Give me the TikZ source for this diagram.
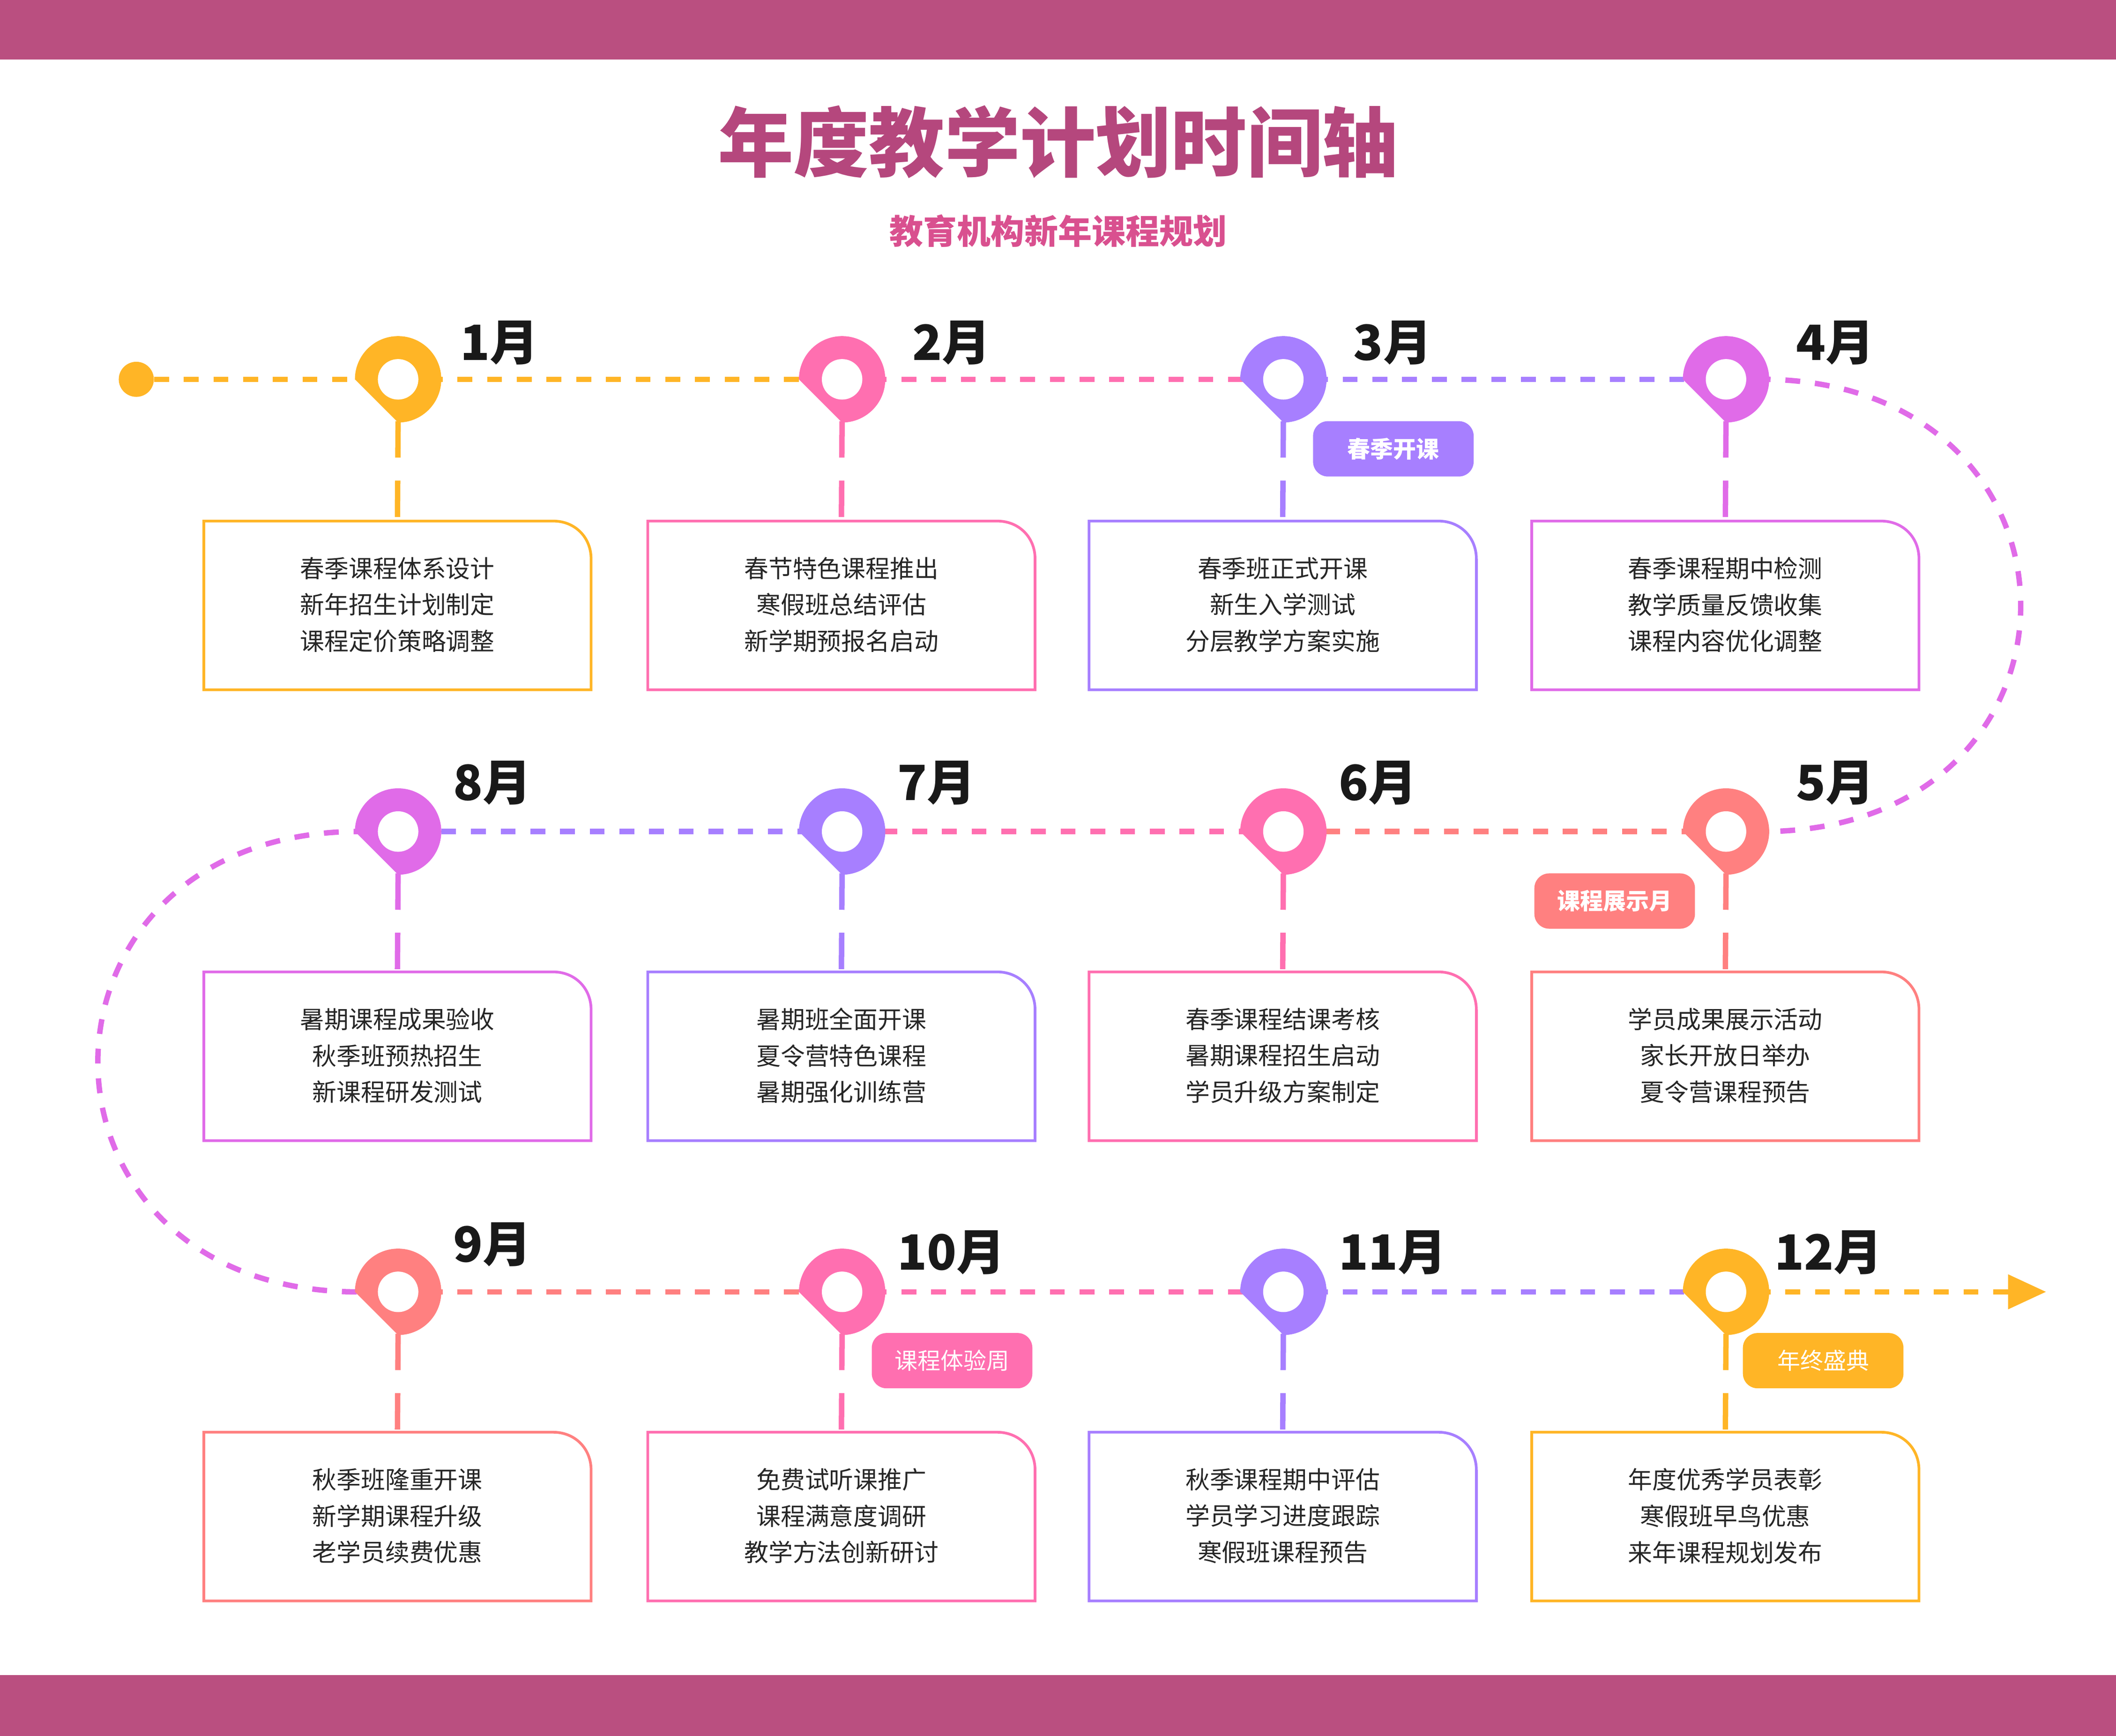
\documentclass[tikz,border=0pt]{standalone}
\usepackage{fontspec}
\setmainfont{Noto Sans CJK SC}
\begin{document}
\begin{tikzpicture}[x=1pt,y=-1pt,
  dl/.style={line width=4pt,dash pattern=on 11pt off 11pt},
  vl/.style={line width=4pt,dash pattern=on 27pt off 17pt},
  txt/.style={font=\fontsize{18}{27}\selectfont,align=center,text=black!85},
  mon/.style={font=\fontsize{36}{40}\selectfont\bfseries,text=black!90},
  tag/.style={rounded corners=11pt,minimum width=119pt,minimum height=41pt,text=white,font=\fontsize{17}{20}\selectfont}]
\definecolor{cO}{HTML}{FFB526}
\definecolor{cP}{HTML}{FF6FB0}
\definecolor{cV}{HTML}{A77FFF}
\definecolor{cM}{HTML}{E06BE8}
\definecolor{cC}{HTML}{FF8080}
\definecolor{bar}{HTML}{BA4F80}
\definecolor{ttl}{HTML}{B5477D}
\definecolor{sub}{HTML}{D9508F}
\useasboundingbox (0,0) rectangle (1568,1286);
\fill[bar] (0,0) rectangle (1568,44);
\fill[bar] (0,1241) rectangle (1568,1286);
\node[font=\fontsize{56}{60}\selectfont\bfseries,text=ttl] (title) at (784,105) {年度教学计划时间轴};
\node[font=\fontsize{25}{28}\selectfont\bfseries,text=sub] (sub) at (784,171) {教育机构新年课程规划};
% marker coordinates
\coordinate (m1) at (295,281); \coordinate (m2) at (624,281); \coordinate (m3) at (951,281); \coordinate (m4) at (1279,281);
\coordinate (m5) at (1279,616); \coordinate (m6) at (951,616); \coordinate (m7) at (624,616); \coordinate (m8) at (295,616);
\coordinate (m9) at (295,957); \coordinate (m10) at (624,957); \coordinate (m11) at (951,957); \coordinate (m12) at (1279,957);
\coordinate (end) at (1490,957);
\node[circle,fill=cO,minimum size=26pt,inner sep=0] (start) at (101,281) {};
% line segments
\draw[dl,cO] (start) -- (m1); \draw[dl,cO] (m1) -- (m2);
\draw[dl,cP] (m2) -- (m3); \draw[dl,cV] (m3) -- (m4);
\draw[dl,cM] (m4) -- ++(30,0) .. controls (1560,285) and (1560,612) .. (1310,616) -- (m5);
\draw[dl,cC] (m5) -- (m6); \draw[dl,cP] (m6) -- (m7); \draw[dl,cV] (m7) -- (m8);
\draw[dl,cM] (m8) -- ++(-35,0) .. controls (10,622) and (10,952) .. (260,957) -- (m9);
\draw[dl,cC] (m9) -- (m10); \draw[dl,cP] (m10) -- (m11); \draw[dl,cV] (m11) -- (m12);
\draw[dl,cO] (m12) -- (end);
\fill[cO] (1516,957) -- (1488,944) -- (1488,970) -- cycle;
% boxes
\foreach \n/\c/\x/\y/\a/\b/\d in {
 1/cO/151/386/春季课程体系设计/新年招生计划制定/课程定价策略调整,
 2/cP/480/386/春节特色课程推出/寒假班总结评估/新学期预报名启动,
 3/cV/807/386/春季班正式开课/新生入学测试/分层教学方案实施,
 4/cM/1135/386/春季课程期中检测/教学质量反馈收集/课程内容优化调整,
 5/cC/1135/720/学员成果展示活动/家长开放日举办/夏令营课程预告,
 6/cP/807/720/春季课程结课考核/暑期课程招生启动/学员升级方案制定,
 7/cV/480/720/暑期班全面开课/夏令营特色课程/暑期强化训练营,
 8/cM/151/720/暑期课程成果验收/秋季班预热招生/新课程研发测试,
 9/cC/151/1061/秋季班隆重开课/新学期课程升级/老学员续费优惠,
 10/cP/480/1061/免费试听课推广/课程满意度调研/教学方法创新研讨,
 11/cV/807/1061/秋季课程期中评估/学员学习进度跟踪/寒假班课程预告,
 12/cO/1135/1061/年度优秀学员表彰/寒假班早鸟优惠/来年课程规划发布}{
 \draw[\c,line width=2pt] (\x,\y+125) -- (\x,\y) -- (\x+259,\y) .. controls (\x+275,\y) and (\x+287,\y+12) .. (\x+287,\y+28) -- (\x+287,\y+125) -- cycle;
 \node[txt] (t\n) at (\x+143.5,\y+62) {\a\\\b\\\d};
 \coordinate (bt\n) at (\x+143.5,\y);
 \draw[vl,\c] (m\n) ++(0,31) -- (bt\n);
 \fill[\c] (m\n) ++(-32,0) arc[start angle=180,end angle=450,radius=32] -- cycle;
 \fill[white] (m\n) circle[radius=15];
}
% month labels
\node[mon] (l1) at (370,254) {1月}; \node[mon] (l2) at (705,254) {2月};
\node[mon] (l3) at (1032,254) {3月}; \node[mon] (l4) at (1360,254) {4月};
\node[mon] (l5) at (1360,580) {5月}; \node[mon] (l6) at (1021,580) {6月};
\node[mon] (l7) at (694,580) {7月}; \node[mon] (l8) at (365,580) {8月};
\node[mon] (l9) at (365,922) {9月}; \node[mon] (l10) at (705,928) {10月};
\node[mon] (l11) at (1032,928) {11月}; \node[mon] (l12) at (1355,928) {12月};
% tags
\node[tag,fill=cV,font=\fontsize{17}{20}\selectfont\bfseries] (g1) at (1032.5,332.5) {春季开课};
\node[tag,fill=cC,font=\fontsize{17}{20}\selectfont\bfseries] (g2) at (1196.5,667.5) {课程展示月};
\node[tag,fill=cP] (g3) at (705.5,1008) {课程体验周};
\node[tag,fill=cO] (g4) at (1351,1008) {年终盛典};
\end{tikzpicture}
\end{document}
